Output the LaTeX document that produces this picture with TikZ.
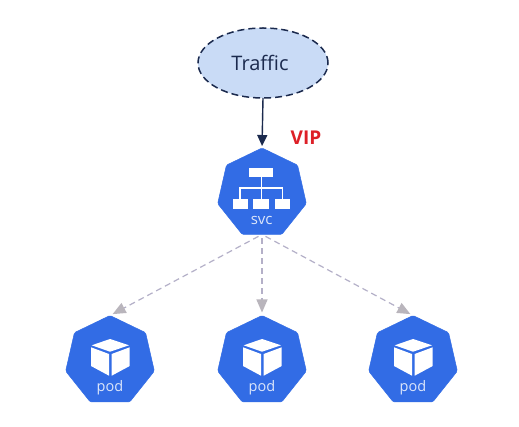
\documentclass[tikz,border=0pt]{standalone}
\usepackage{fontspec}
\setmainfont{Open Sans}
\usetikzlibrary{shapes.geometric,arrows.meta}
\definecolor{kblue}{HTML}{326CE5}
\definecolor{kfill}{HTML}{C9DBF6}
\definecolor{kdark}{HTML}{1B2A4E}
\definecolor{kgray}{HTML}{B4B0C8}
\definecolor{ktip}{HTML}{B9B5BC}
\definecolor{klabel}{HTML}{DCE6FA}
\definecolor{kred}{HTML}{DD2027}
\tikzset{
  hept/.style={regular polygon,regular polygon sides=7,minimum size=91pt,inner sep=0pt,outer sep=0pt,fill=kblue,draw=kblue,line width=0.5pt,rounded corners=1.5pt},
  hlabel/.style={text=klabel,inner sep=0pt,font=\fontsize{14.5}{16}\selectfont},
  solidwhite/.style={fill=white,draw=none},
  wire/.style={draw=white,line width=1.8pt},
  entry/.style={draw=kdark,line width=1.4pt,-{Triangle[length=11pt,width=10pt,fill=kdark]},shorten >=2pt},
  fan/.style={draw=kgray,line width=1.2pt,dash pattern=on 6pt off 4pt,-{Triangle[length=13pt,width=11pt,color=ktip]},shorten <=4pt,shorten >=3pt},
  cube/.pic={
    \fill[solidwhite] (0,-22) -- (19,-15.7) -- (0,-9.3) -- (-18.3,-15.7) -- cycle;
    \fill[solidwhite] (-19,-13.7) -- (-1,-7) -- (-1,14.7) -- (-19,5) -- cycle;
    \fill[solidwhite] (1.7,-7) -- (19.7,-13.7) -- (19.7,5) -- (1.7,14.7) -- cycle;
  }
}
\begin{document}
\begin{tikzpicture}[x=1pt,y=-1pt]
\useasboundingbox[fill=white] (0,0) rectangle (519,427);
% traffic
\node[ellipse,minimum width=130pt,minimum height=70pt,inner sep=0pt,outer sep=0pt,fill=kfill,draw=kdark,line width=1.5pt,dash pattern=on 7pt off 4pt,font=\fontsize{20}{24}\selectfont] (traffic) at (263,63) {\makebox[0pt]{\hspace{-6pt}\textcolor{kdark}{Traffic}}};
% service
\node[hept] (svc) at (262,193.5) {};
\node[hlabel,font=\fontsize{15}{17}\selectfont] (svclabel) at (261.7,220.5) {svc};
\node[text=kred,inner sep=0pt,font=\fontsize{19}{22}\selectfont\bfseries] (vip) at (306,138) {VIP};
\draw[wire] (261.5,177) -- (261.5,199);
\draw[wire] (240.3,199) -- (240.3,187.7) -- (282.5,187.7) -- (282.5,199);
\fill[solidwhite] (249.3,167.7) rectangle (273.3,177.3);
\fill[solidwhite] (232.7,199) rectangle (248,209);
\fill[solidwhite] (253.3,199) rectangle (269,209);
\fill[solidwhite] (274.7,199) rectangle (290.3,209);
% pods
\node[hept] (podA) at (110,361) {};
\node[hept] (podB) at (262,361) {};
\node[hept] (podC) at (413,361) {};
\pic at (podA.center) {cube};
\pic at (podB.center) {cube};
\pic at (podC.center) {cube};
\node[hlabel] (podAlabel) at (110,388) {pod};
\node[hlabel] (podBlabel) at (262,388) {pod};
\node[hlabel] (podClabel) at (413,388) {pod};
% connectors
\draw[entry] (traffic.south) -- (svc.corner 1);
\draw[fan] (svc.side 4) -- (podA.corner 1);
\draw[fan] (svc.side 4) -- (podB.corner 1);
\draw[fan] (svc.side 4) -- (podC.corner 1);
\end{tikzpicture}
\end{document}
